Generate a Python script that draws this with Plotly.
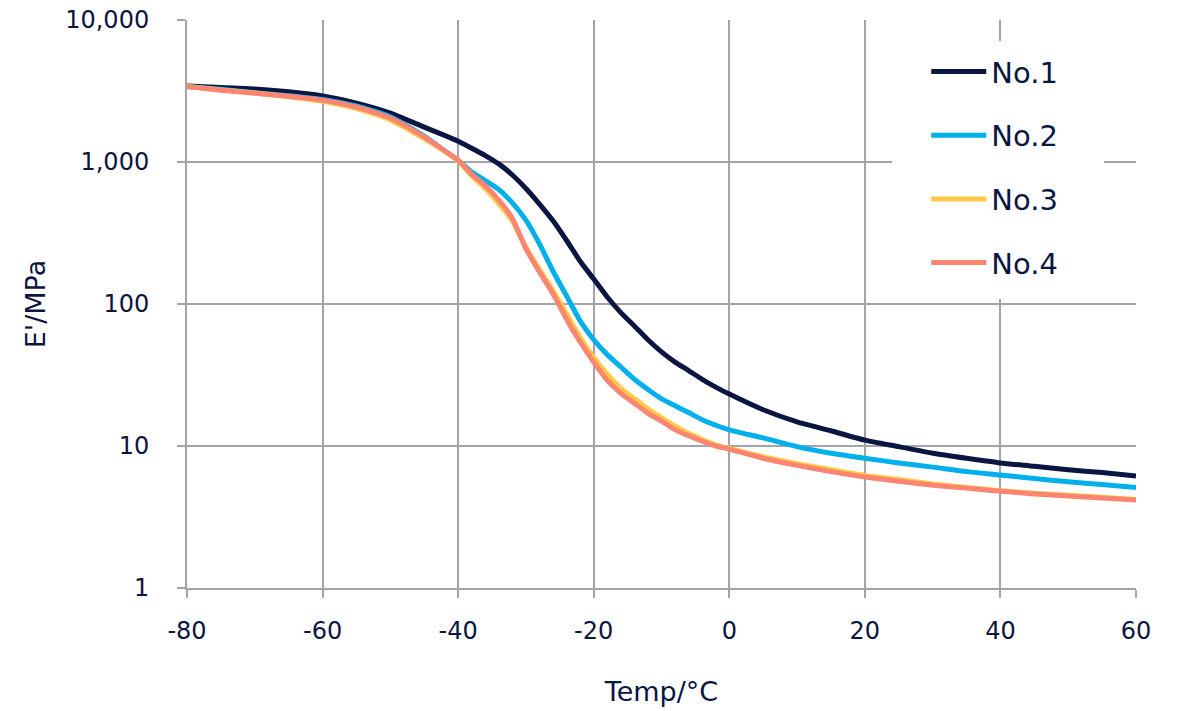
import plotly.graph_objects as go

temps = [-80, -75, -70, -65, -60, -55, -50, -45, -42, -40, -38, -36, -34, -32, -30,
         -28, -26, -24, -22, -20, -18, -16, -14, -12, -10, -8, -6, -4, -2, 0,
         5, 10, 15, 20, 25, 30, 35, 40, 45, 50, 55, 60]

no1 = [3430, 3350, 3270, 3120, 2920, 2600, 2210, 1760, 1540, 1400, 1250, 1110, 970, 810, 650,
       505, 385, 280, 200, 150, 112, 87, 70, 56, 46, 39, 34, 29.5, 26, 23.2,
       18, 14.8, 12.8, 11.0, 9.9, 8.9, 8.2, 7.6, 7.2, 6.8, 6.5, 6.15]
no2 = [3400, 3250, 3080, 2930, 2760, 2480, 2080, 1520, 1200, 1030, 850, 740, 640, 515, 390,
       265, 170, 114, 76, 56, 44, 36, 29.5, 25, 21.5, 19.2, 17.2, 15.3, 14, 13,
       11.4, 9.9, 8.9, 8.2, 7.6, 7.1, 6.6, 6.25, 5.9, 5.6, 5.35, 5.1]
no3 = [3400, 3220, 3060, 2880, 2680, 2380, 1980, 1460, 1190, 1020, 800, 650, 510, 385, 250,
       175, 124, 85, 58, 42, 32, 25.5, 21.5, 18.3, 15.8, 13.8, 12.3, 11.1, 10.2, 9.6,
       8.4, 7.5, 6.8, 6.2, 5.8, 5.4, 5.1, 4.85, 4.65, 4.5, 4.35, 4.2]
no4 = [3400, 3200, 3050, 2900, 2720, 2440, 2040, 1500, 1200, 1030, 820, 680, 540, 400, 245,
       168, 118, 78, 54, 39, 29, 23.5, 20, 17, 15, 13, 11.8, 10.8, 10, 9.5,
       8.2, 7.3, 6.6, 6.05, 5.65, 5.3, 5.05, 4.8, 4.6, 4.45, 4.3, 4.17]

names = ["No.1", "No.2", "No.3", "No.4"]
colors = ["#0b1541", "#00b0ea", "#ffc845", "#fb8571"]
series = [no1, no2, no3, no4]

y_tickvals = [1, 10, 100, 1000, 10000]
y_ticktext = ["1", "10", "100", "1,000", "10,000"]
x_tickvals = [-80, -60, -40, -20, 0, 20, 40, 60]
x_ticktext = ["-80", "-60", "-40", "-20", "0", "20", "40", "60"]

text_color = "#0b1541"
grid_color = "#a3a3ab"
font_family = "DejaVu Sans, sans-serif"

fig = go.Figure()
for name, col, vals in zip(names, colors, series):
    fig.add_trace(go.Scatter(
        x=temps, y=vals, name=name, mode="lines",
        line=dict(color=col, width=5, shape="spline", smoothing=0.6),
        legendgroup=name,
    ))

# white panel behind the legend (covers the gridlines like the original)
fig.add_shape(type="rect", xref="paper", yref="paper",
              x0=0.7429, x1=0.9663, y0=0.5088, y1=0.963,
              fillcolor="white", line=dict(width=0), layer="above")

fig.update_layout(
    width=1187, height=711,
    margin=dict(l=187, r=51, t=20, b=123, autoexpand=False),
    paper_bgcolor="white", plot_bgcolor="white",
    font=dict(family=font_family, color=text_color, size=22),
    showlegend=True,
    legend=dict(
        x=0.779, y=0.954, xanchor="left", yanchor="top",
        bgcolor="rgba(0,0,0,0)", borderwidth=0,
        font=dict(size=29, color=text_color),
        tracegroupgap=23, itemwidth=55,
        traceorder="grouped",
    ),
)

fig.update_xaxes(
    range=[-80, 60], tickvals=x_tickvals, ticktext=x_ticktext,
    showgrid=True, gridcolor=grid_color, gridwidth=2,
    showline=True, linecolor=grid_color, linewidth=2,
    ticks="outside", ticklen=8, tickcolor=grid_color, tickwidth=2,
    tickfont=dict(size=24, color=text_color),
    ticklabelstandoff=12, ticklabeloverflow="allow",
    zeroline=False, automargin=False,
    title=dict(text="Temp/°C", font=dict(size=27, color=text_color), standoff=38),
)
fig.update_yaxes(
    type="log", range=[0, 4], tickvals=y_tickvals, ticktext=y_ticktext,
    showgrid=True, gridcolor=grid_color, gridwidth=2,
    showline=True, linecolor=grid_color, linewidth=2,
    ticks="outside", ticklen=8, tickcolor=grid_color, tickwidth=2,
    tickfont=dict(size=24, color=text_color),
    ticklabelstandoff=23, ticklabeloverflow="allow",
    zeroline=False, automargin=False,
    title=dict(text="E'/MPa", font=dict(size=27, color=text_color), standoff=12),
)

fig.write_html("out.html",
               config={"displayModeBar": False},
               post_script="document.body.style.margin='0';")
